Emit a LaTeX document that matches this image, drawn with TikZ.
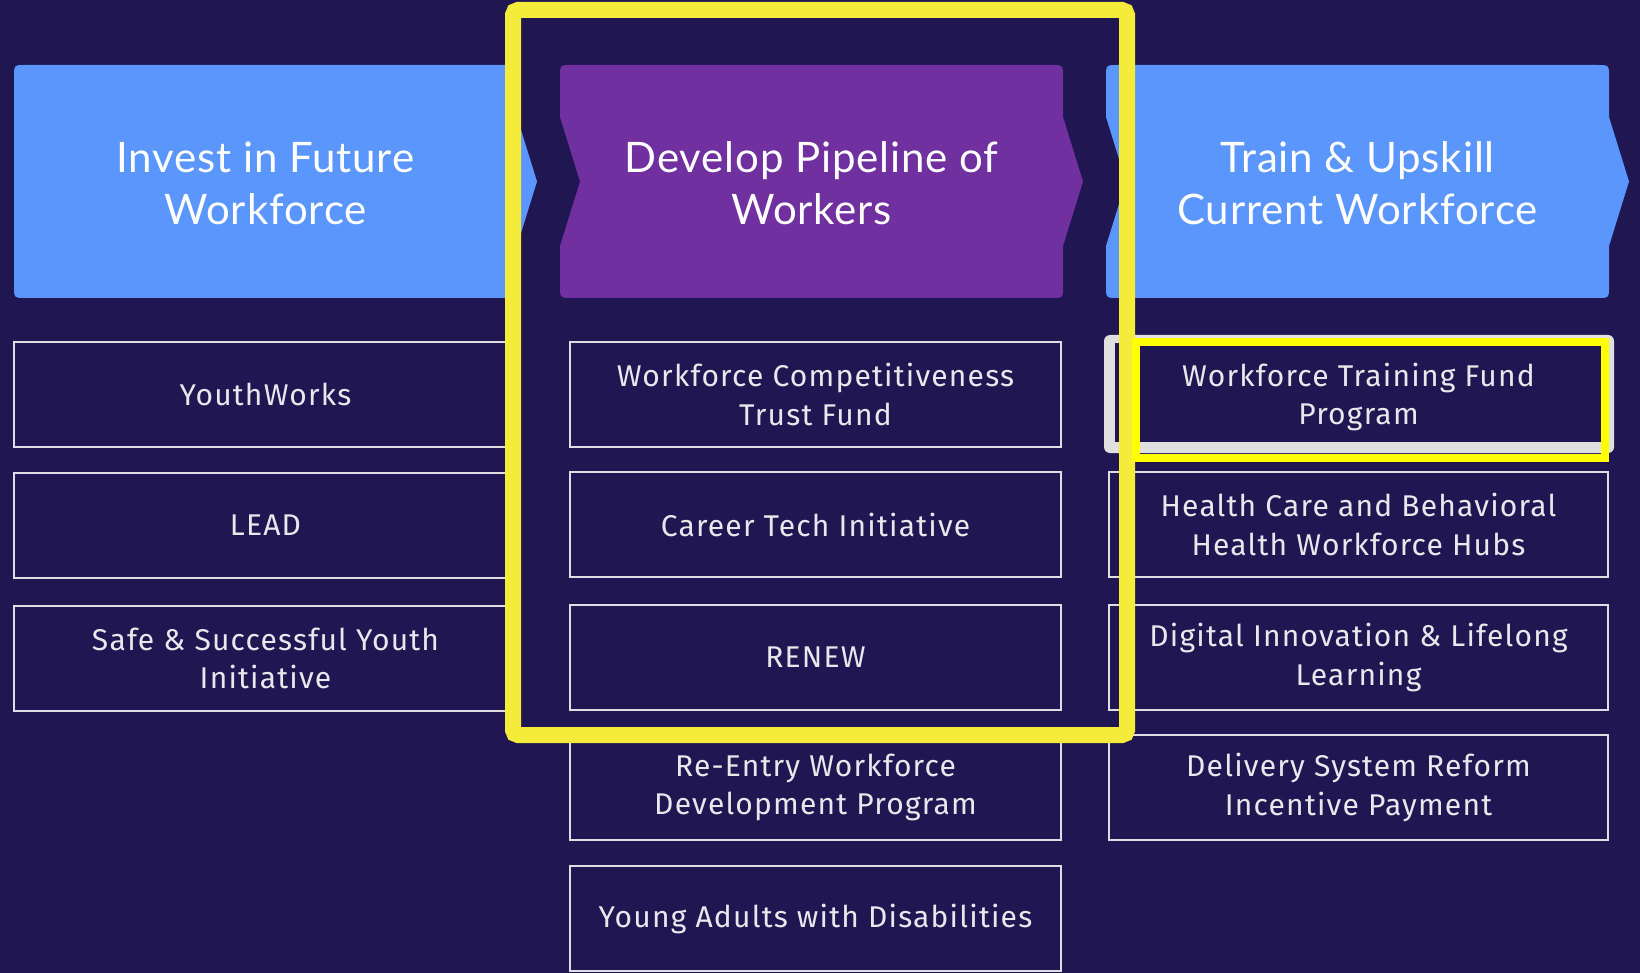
\documentclass[tikz,border=0pt]{standalone}
\usepackage{fontspec}
\setmainfont{Fira Sans}[LetterSpace=4]
\newfontfamily\headfont{Lato}[LetterSpace=2]
\definecolor{bg}{RGB}{31,22,82}
\definecolor{hblue}{RGB}{91,150,253}
\definecolor{hpurple}{RGB}{112,48,160}
\definecolor{boxline}{RGB}{222,222,228}
\definecolor{boxtext}{RGB}{232,232,236}
\definecolor{bigyel}{RGB}{245,235,58}
\definecolor{selyel}{RGB}{255,255,0}
\definecolor{selgray}{RGB}{224,224,224}
\newcommand{\chevhead}[3]{%
 \fill[#2] ({#1+12},65) -- ({#1+491},65) .. controls ({#1+503},65) .. ({#1+503},77)
  -- ({#1+503},117) -- ({#1+523},181.5) -- ({#1+503},246) -- ({#1+503},286)
  .. controls ({#1+503},298) .. ({#1+491},298) -- ({#1+12},298)
  .. controls (#1,298) .. (#1,286) -- (#1,246) -- ({#1+#3},181.5) -- (#1,117) -- (#1,77)
  .. controls (#1,65) .. ({#1+12},65) -- cycle;}
\tikzset{
  headtxt/.style={text=white, align=center, font=\headfont\fontsize{42}{52}\selectfont},
  item/.style={draw=boxline, line width=2.5pt, text=boxtext, align=center,
    font=\fontsize{30}{38.5}\selectfont, minimum height=105pt, inner sep=0pt},
  colA/.style={item, minimum width=503pt},
  colB/.style={item, minimum width=491pt},
  colC/.style={item, minimum width=499pt},
}
\begin{document}
\begin{tikzpicture}[x=1pt,y=-1pt]
\fill[bg] (0,0) rectangle (1640,973);
\useasboundingbox (0,0) rectangle (1640,973);
% headers
\chevhead{14}{hblue}{0}
\chevhead{560}{hpurple}{20}
\chevhead{1106}{hblue}{20}
\node[headtxt] (h1) at (265.5,183) {Invest in Future\\Workforce};
\node[headtxt] (h2) at (811.5,183) {Develop Pipeline of\\Workers};
\node[headtxt] (h3) at (1357.5,183) {Train \& Upskill\\Current Workforce};
% column 1
\node[colA] (a1) at (265.5,394.5) {YouthWorks};
\node[colA] (a2) at (265.5,525.5) {LEAD};
\node[colA] (a3) at (265.5,658.5) {Safe \& Successful Youth\\Initiative};
% column 2
\node[colB] (b1) at (815.5,394.5) {Workforce Competitiveness\\Trust Fund};
\node[colB] (b2) at (815.5,524.5) {Career Tech Initiative};
\node[colB] (b3) at (815.5,657.5) {RENEW};
\node[colB] (b4) at (815.5,787.5) {Re-Entry Workforce\\Development Program};
\node[colB] (b5) at (815.5,918.5) {Young Adults with Disabilities};
% column 3
\fill[selgray, rounded corners=6pt] (1104,335) rectangle (1614,453);
\fill[bg] (1115,343) rectangle (1601,442);
\node[colC, draw=none] (c1) at (1358.5,397) {Workforce Training Fund\\Program};
\node[colC] (c2) at (1358.5,524.5) {Health Care and Behavioral\\Health Workforce Hubs};
\node[colC] (c3) at (1358.5,657.5) {Digital Innovation \& Lifelong\\Learning};
\node[colC] (c4) at (1358.5,787.5) {Delivery System Reform\\Incentive Payment};
% highlights
\node[draw=bigyel, line width=16pt, rounded corners=5pt, minimum width=614pt, minimum height=725pt, inner sep=0pt] (frame) at (820,372.5) {};
\node[draw=selyel, line width=8pt, minimum width=469pt, minimum height=116pt, inner sep=0pt] (sel) at (1370.5,400) {};
\end{tikzpicture}
\end{document}
